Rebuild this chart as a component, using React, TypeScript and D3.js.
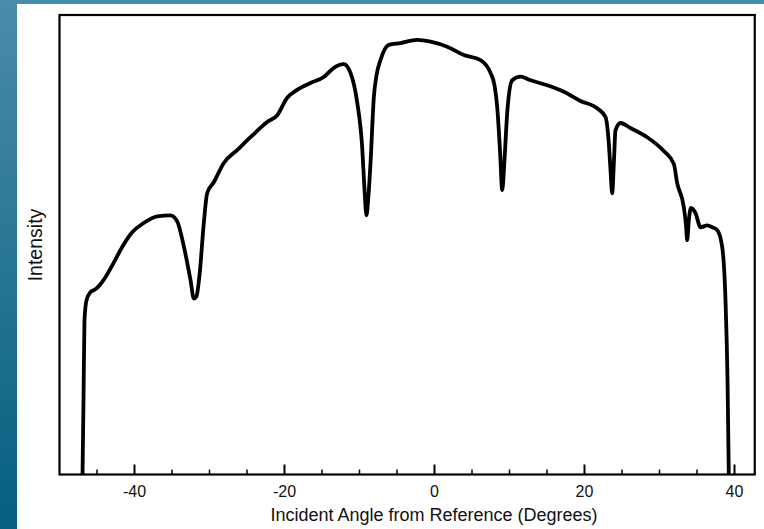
import React, { useEffect, useRef } from "react";
import * as d3 from "d3";

const angles = [
  -46.93, -46.8, -46.67, -46.4, -45.87, -45.2, -44.13, -42.8, -41.64, -40.31,
  -38.8, -36.97, -35.2, -34.31, -33.43, -32.53, -32.09, -31.73, -31.33, -30.76,
  -30.31, -29.43, -28.09, -26.31, -24.53, -22.31, -20.97, -19.64, -18.31, -16.53,
  -14.76, -13.43, -12.09, -11.2, -10.31, -9.64, -9.33, -9.07, -8.8, -8.53,
  -8.09, -7.73, -7.2, -6.09, -4.53, -2.31, -0.53, 1.69, 3.91, 6.13,
  7.47, 8.0, 8.36, 8.73, 9.03, 9.33, 9.69, 10.36, 11.47, 12.8,
  15.03, 17.24, 19.47, 21.69, 22.8, 23.24, 23.47, 23.69, 23.93, 24.13,
  24.8, 26.13, 28.36, 30.57, 31.91, 32.36, 33.24, 33.53, 33.69, 33.91,
  34.2, 34.8, 35.47, 36.36, 37.03, 37.69, 38.36, 38.8, 39.07, 39.24,
];
const intensity = [
  0, 16.1, 33.6, 37.9, 39.7, 40.3, 42.3, 46.0, 49.5, 52.7,
  54.7, 56.2, 56.4, 55.1, 49.7, 42.3, 38.3, 38.8, 43.4, 54.7,
  61.2, 63.6, 67.8, 70.6, 73.4, 76.7, 78.2, 82.0, 83.7, 85.2,
  86.5, 88.5, 89.3, 87.4, 81.0, 71.2, 61.9, 56.4, 60.8, 67.8,
  82.1, 86.9, 90.2, 93.5, 93.9, 94.6, 94.2, 93.1, 91.3, 90.2,
  87.4, 84.7, 80.0, 70.6, 61.9, 68.4, 78.6, 85.8, 86.6, 85.8,
  84.7, 83.3, 81.3, 79.7, 77.8, 72.1, 66.2, 61.2, 68.4, 74.9,
  76.5, 75.4, 73.4, 70.4, 67.6, 63.4, 58.2, 54.3, 51.0, 55.3,
  58.0, 56.9, 53.8, 54.2, 53.8, 53.2, 49.5, 37.9, 20.5, 0,
];

const majorTicks = [-40, -20, 0, 20, 40];
const minorTicks = [-45, -35, -30, -25, -15, -10, -5, 5, 10, 15, 25, 30, 35];

const xTitle = "Incident Angle from Reference (Degrees)";
const yTitle = "Intensity";

export default function App() {
  const svgRef = useRef<SVGSVGElement>(null);

  useEffect(() => {
    const width = 764;
    const height = 529;
    const svg = d3.select(svgRef.current).attr("width", width).attr("height", height);
    svg.selectAll("*").remove();

    // --- slide background ---
    const defs = svg.append("defs");
    const grad = defs.append("linearGradient")
      .attr("id", "bg").attr("x1", 0).attr("y1", 0).attr("x2", 0).attr("y2", 1);
    grad.append("stop").attr("offset", "0%").attr("stop-color", "#4a8ca9");
    grad.append("stop").attr("offset", "100%").attr("stop-color", "#055f80");
    svg.append("rect").attr("width", width).attr("height", height).attr("fill", "url(#bg)");
    svg.append("rect").attr("x", 17).attr("y", 4).attr("width", width - 17).attr("height", height - 4)
      .attr("fill", "#fff");

    // --- scales ---
    const left = 59.5, right = 754.75, top = 15, bottom = 474.5;
    const x = d3.scaleLinear().domain([-50, 42.7]).range([left, right]);
    const y = d3.scaleLinear().domain([0, 100]).range([bottom, top]);

    defs.append("clipPath").attr("id", "plot")
      .append("rect").attr("x", left).attr("y", top).attr("width", right - left).attr("height", bottom - top);

    // --- trace ---
    const pts: [number, number][] = angles.map((a, i) => [a, intensity[i]]);
    const line = d3.line<[number, number]>()
      .x(d => x(d[0]))
      .y(d => y(d[1]))
      .curve(d3.curveMonotoneX);

    svg.append("path")
      .datum(pts)
      .attr("clip-path", "url(#plot)")
      .attr("d", line)
      .attr("fill", "none")
      .attr("stroke", "#000")
      .attr("stroke-width", 3.8)
      .attr("stroke-linejoin", "round");

    // --- frame ---
    svg.append("rect")
      .attr("x", left).attr("y", top)
      .attr("width", right - left).attr("height", bottom - top)
      .attr("fill", "none").attr("stroke", "#000").attr("stroke-width", 2.2);

    // --- ticks (inside, bottom only) ---
    svg.selectAll(".major").data(majorTicks).join("line")
      .attr("x1", d => x(d)).attr("x2", d => x(d))
      .attr("y1", bottom).attr("y2", bottom - 10)
      .attr("stroke", "#000").attr("stroke-width", 2);
    svg.selectAll(".minor").data(minorTicks).join("line")
      .attr("x1", d => x(d)).attr("x2", d => x(d))
      .attr("y1", bottom).attr("y2", bottom - 5)
      .attr("stroke", "#000").attr("stroke-width", 1.5);

    svg.selectAll(".tlabel").data(majorTicks).join("text")
      .attr("x", d => x(d)).attr("y", 497)
      .attr("text-anchor", "middle")
      .attr("font-family", "Liberation Sans, Arial, sans-serif")
      .attr("font-size", 16)
      .attr("fill", "#111")
      .text(d => String(d));

    svg.append("text")
      .attr("x", 434).attr("y", 521)
      .attr("text-anchor", "middle")
      .attr("font-family", "Liberation Sans, Arial, sans-serif")
      .attr("font-size", 18)
      .attr("fill", "#111")
      .text(xTitle);

    svg.append("text")
      .attr("transform", "translate(42,245) rotate(-90)")
      .attr("text-anchor", "middle")
      .attr("font-family", "Liberation Sans, Arial, sans-serif")
      .attr("font-size", 19.5)
      .attr("fill", "#111")
      .text(yTitle);
  }, []);

  return <svg ref={svgRef} style={{ position: "absolute", left: 0, top: 0 }}></svg>;
}
